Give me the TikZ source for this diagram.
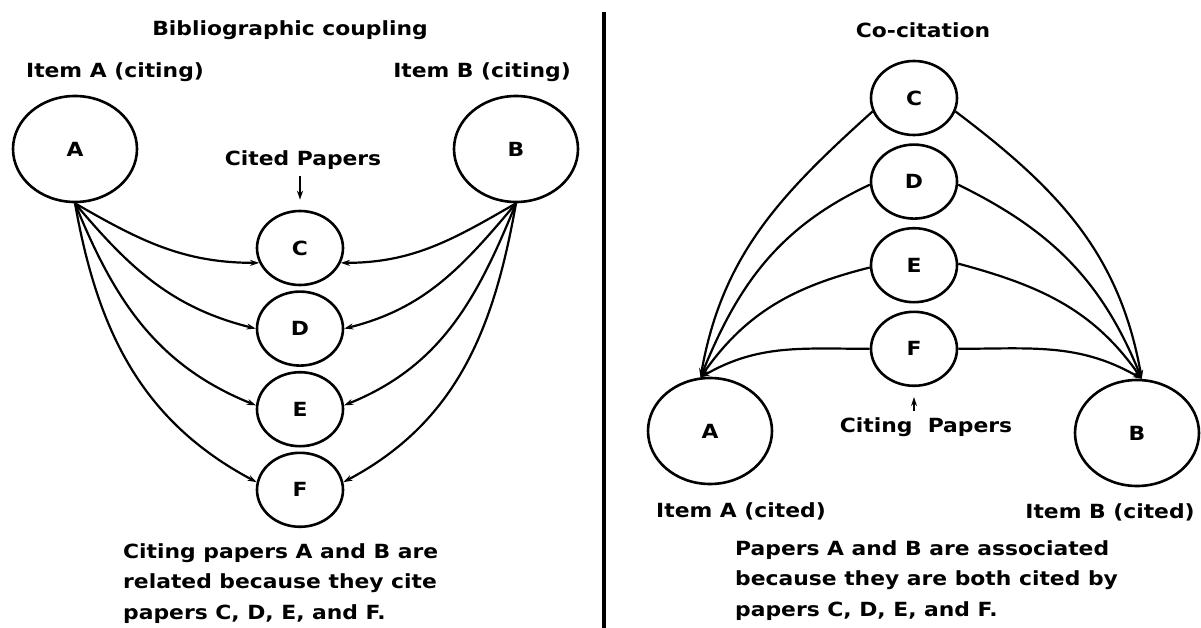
\documentclass[tikz,border=0pt]{standalone}
\usepackage{fontspec}
\setmainfont[FakeStretch=1.12]{DejaVu Sans}
\usetikzlibrary{arrows, arrows.meta, positioning, shapes.geometric}

\tikzset{
  paper/.style={draw, ellipse, minimum width=86pt, minimum height=74pt, inner sep=0pt, line width=2.6pt, font=\fontsize{19.5}{22}\selectfont\bfseries},
  item/.style={paper, minimum width=124pt, minimum height=106pt},
  label/.style={font=\fontsize{19.5}{22}\selectfont\bfseries, inner sep=0pt},
  caption/.style={font=\fontsize{19.5}{30.5}\selectfont\bfseries, align=left, inner sep=0pt},
  link/.style={line width=2.2pt, -{Stealth[length=9pt, width=6pt]}},
}

\begin{document}
\begin{tikzpicture}[x=1pt, y=-1pt, node distance=4pt]
    \useasboundingbox (0,0) rectangle (1201,628);

    % bibliographic coupling
    \node [label] (ltitle) at (290,30) {Bibliographic coupling};
    \node [item] (lA) at (75,149) {A};
    \node [item] (lB) at (516,149) {B};
    \node [label] (lAtext) at (115,72) {Item A (citing)};
    \node [label] (lBtext) at (482,72) {Item B (citing)};
    \node [paper] (lC) at (300,248) {C};
    \node [paper, below=of lC] (lD) {D};
    \node [paper, below=of lD] (lE) {E};
    \node [paper, below=of lE] (lF) {F};
    \node [label] (cited) at (303,160) {Cited Papers};
    \draw [link, shorten >=10pt, shorten <=6pt] (cited.south -| lC) -- (lC);
    \draw [link] (lA.south) to [out=-30, in=180] (lC.200);
    \draw [link] (lA.south) to [out=-50, in=166] (lD.180);
    \draw [link] (lA.south) to [out=-68, in=158] (lE.175);
    \draw [link] (lA.south) to [out=-80, in=152] (lF.170);
    \draw [link] (lB.south) to [out=-150, in=0] (lC.-20);
    \draw [link] (lB.south) to [out=-130, in=14] (lD.0);
    \draw [link] (lB.south) to [out=-112, in=22] (lE.5);
    \draw [link] (lB.south) to [out=-100, in=28] (lF.10);
    \node [caption, anchor=north west] (lcap) at (123,543) {Citing papers A and B are\\related because they cite\\papers C, D, E, and F.};

    % divider
    \coordinate (top) at (604,12);
    \coordinate (bottom) at (604,628);
    \draw [line width=3.4pt] (top) -- (bottom);

    % co-citation
    \node [label] (rtitle) at (923,30) {Co-citation};
    \node [paper] (rC) at (914,98) {C};
    \node [paper, below=7pt of rC] (rD) {D};
    \node [paper, below=7pt of rD] (rE) {E};
    \node [paper, below=7pt of rE] (rF) {F};
    \node [item] (rA) at (710,431) {A};
    \node [item] (rB) at (1137,433) {B};
    \node [label] (citing) at (926,427) {Citing\ \ Papers};
    \draw [link, shorten >=10pt, shorten <=6pt] (citing.north -| rF) -- (rF);
    \draw [link] (rC.198) to [out=222, in=80] (rA.100);
    \draw [link] (rD.184) to [out=205, in=68] (rA.100);
    \draw [link] (rE.183) to [out=194, in=55] (rA.100);
    \draw [link] (rF.180) to [out=180, in=30] (rA.100);
    \draw [link] (rC.-18) to [out=-37, in=100] (rB.85);
    \draw [link] (rD.-4) to [out=-26, in=112] (rB.85);
    \draw [link] (rE.2) to [out=-15, in=125] (rB.85);
    \draw [link] (rF.0) to [out=0, in=150] (rB.85);
    \node [label] (rAtext) at (741,511) {Item A (cited)};
    \node [label] (rBtext) at (1110,512) {Item B (cited)};
    \node [caption, anchor=north west] (rcap) at (735,540) {Papers A and B are associated\\because they are both cited by\\papers C, D, E, and F.};
\end{tikzpicture}
\end{document}
